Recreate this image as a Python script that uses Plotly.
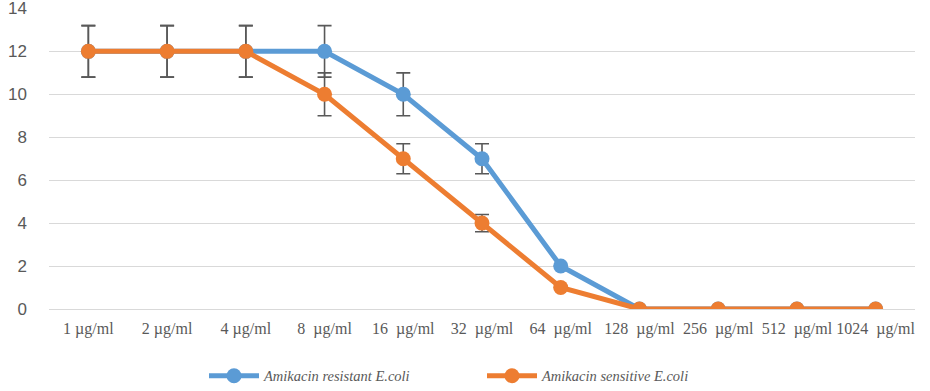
import plotly.graph_objects as go

NB = "\u00a0"
categories = ["1 µg/ml", "2 µg/ml", "4 µg/ml", "8 " + NB + "µg/ml", "16 " + NB + "µg/ml",
              "32 " + NB + "µg/ml", "64 " + NB + "µg/ml", "128 " + NB + "µg/ml",
              "256 " + NB + "µg/ml", "512 " + NB + "µg/ml", "1024 " + NB + "µg/ml"]
resistant = [12, 12, 12, 12, 10, 7, 2, 0, 0, 0, 0]
resistant_err = [1.2, 1.2, 1.2, 1.2, 1.0, 0.7, 0, 0, 0, 0, 0]
sensitive = [12, 12, 12, 10, 7, 4, 1, 0, 0, 0, 0]
sensitive_err = [1.2, 1.2, 1.2, 1.0, 0.7, 0.4, 0, 0, 0, 0, 0]
y_ticks = [0, 2, 4, 6, 8, 10, 12, 14]

fig = go.Figure()
fig.add_trace(go.Scatter(
    x=categories, y=resistant, name="Amikacin resistant E.coli",
    mode="lines+markers",
    line=dict(color="#5b9bd5", width=5),
    marker=dict(color="#5b9bd5", size=15),
    error_y=dict(type="data", array=resistant_err, visible=True,
                 color="#595959", thickness=1.6, width=7),
))
fig.add_trace(go.Scatter(
    x=categories, y=sensitive, name="Amikacin sensitive E.coli",
    mode="lines+markers",
    line=dict(color="#ed7d31", width=5),
    marker=dict(color="#ed7d31", size=15),
    error_y=dict(type="data", array=sensitive_err, visible=True,
                 color="#595959", thickness=1.6, width=7),
))

fig.update_layout(
    width=930, height=391,
    margin=dict(l=49, r=15, t=8, b=82, autoexpand=False),
    plot_bgcolor="white", paper_bgcolor="white",
    showlegend=True,
    legend=dict(orientation="h", x=0.5, xanchor="center",
                y=-0.222, yanchor="middle",
                entrywidth=213, entrywidthmode="pixels",
                font=dict(family="Liberation Serif", size=14.5, color="#595959",
                          style="italic"),
                itemwidth=50),
    xaxis=dict(
        type="category", range=[-0.5, 10.5],
        showgrid=False, showline=False, zeroline=False, ticks="",
        tickfont=dict(family="Liberation Serif", size=16, color="#595959"),
        ticklabelstandoff=8,
    ),
    yaxis=dict(
        range=[0, 14.02], tickvals=y_ticks, showgrid=True, gridcolor="#d9d9d9",
        gridwidth=1, zeroline=True, zerolinecolor="#d9d9d9", zerolinewidth=1,
        showline=False, ticks="",
        tickfont=dict(family="Liberation Sans", size=17, color="#595959"),
        ticklabelstandoff=21, ticklabeloverflow="allow",
    ),
)

fig.write_html("out.html",
               config={"displayModeBar": False},
               post_script="document.body.style.margin='0';document.body.style.overflow='hidden';")
